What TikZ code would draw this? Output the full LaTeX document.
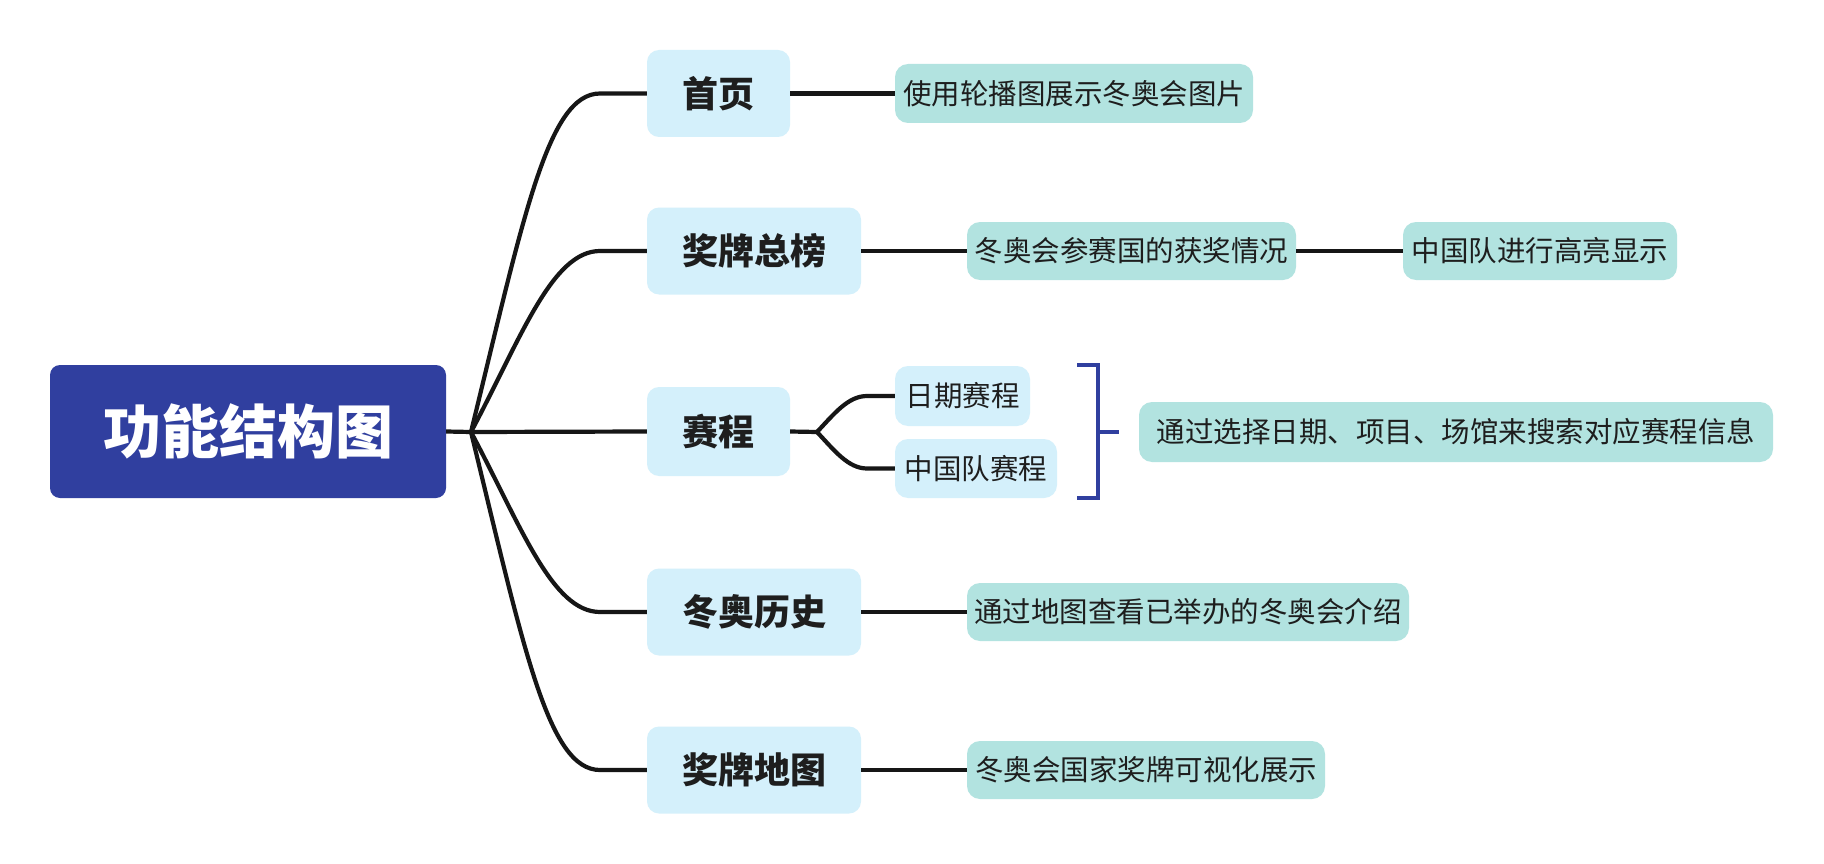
\documentclass[tikz,border=0pt]{standalone}
\usepackage{fontspec}
\newfontfamily\cjk{Noto Sans CJK SC}
\usetikzlibrary{calc}
\definecolor{rootc}{HTML}{303F9F}
\definecolor{lonec}{RGB}{212,240,251}
\definecolor{ltwoc}{RGB}{178,227,224}
\definecolor{txtc}{HTML}{1E1E1E}
\definecolor{linec}{HTML}{161616}
\tikzset{
  rootbox/.style={fill=rootc, rounded corners=10pt, minimum width=396pt, minimum height=133pt, inner sep=0pt, text=white, font=\cjk\bfseries\fontsize{58}{62}\selectfont},
  topicbox/.style={fill=lonec, rounded corners=12pt, minimum height=87pt, inner sep=0pt, text=txtc, font=\cjk\bfseries\fontsize{36}{40}\selectfont},
  subbox/.style={fill=ltwoc, rounded corners=13pt, minimum height=58pt, inner sep=0pt, text=txtc, font=\cjk\fontsize{28.5}{32}\selectfont},
  subblue/.style={subbox, fill=lonec},
  conn/.style={draw=linec, line width=4.2pt},
  bracketline/.style={draw=rootc, line width=4pt}
}
\begin{document}
\begin{tikzpicture}[x=1pt,y=-1pt]
\useasboundingbox[fill=white] (0,0) rectangle (1824,864);

% root
\node[rootbox] (root) at (248,431.5) {功能结构图};

% level 1
\node[topicbox, minimum width=143pt] (t1) at (718.5,93.5) {首页};
\node[topicbox, minimum width=214pt] (t2) at (754,251) {奖牌总榜};
\node[topicbox, minimum width=143pt, minimum height=89pt] (t3) at (718.5,431.5) {赛程};
\node[topicbox, minimum width=214pt] (t4) at (754,612) {冬奥历史};
\node[topicbox, minimum width=214pt] (t5) at (754,770) {奖牌地图};

% level 2
\node[subbox, minimum width=358pt, minimum height=59pt] (p1) at (1074,93.5) {使用轮播图展示冬奥会图片};
\node[subbox, minimum width=329pt] (p2a) at (1131.5,251) {冬奥会参赛国的获奖情况};
\node[subbox, minimum width=274pt] (p2b) at (1540,251) {中国队进行高亮显示};
\node[subblue, minimum width=135pt, minimum height=60pt] (s1) at (962.5,396) {日期赛程};
\node[subblue, minimum width=162pt, minimum height=59pt] (s2) at (976,468.5) {中国队赛程};
\node[subbox, minimum width=634pt, minimum height=60pt] (sum) at (1456,432) {通过选择日期、项目、场馆来搜索对应赛程信息};
\node[subbox, minimum width=442pt] (p4) at (1188,612) {通过地图查看已举办的冬奥会介绍};
\node[subbox, minimum width=358pt] (p5) at (1146,770) {冬奥会国家奖牌可视化展示};

% junctions
\coordinate (J) at (471,432);
\coordinate (e1) at (600,93.5);
\coordinate (e2) at (600,251);
\coordinate (e4) at (600,612);
\coordinate (e5) at (600,770);
\coordinate (K) at (817,432);
\coordinate (k1) at (867,396);
\coordinate (k2) at (867,468.5);

% root connectors
\draw[conn] (root.east) -- (J) -- (t3.west);
\draw[conn, line join=round] (J) .. controls (524,215) and (548,93.5) .. (e1) -- (t1.west);
\draw[conn, line join=round] (J) .. controls (521,338) and (552,251) .. (e2) -- (t2.west);
\draw[conn, line join=round] (J) .. controls (521,526) and (552,612) .. (e4) -- (t4.west);
\draw[conn, line join=round] (J) .. controls (524,649) and (548,770) .. (e5) -- (t5.west);

% level 1 to level 2
\draw[conn] (t1.east) -- (p1.west);
\draw[conn] (t2.east) -- (p2a.west);
\draw[conn] (p2a.east) -- (p2b.west);
\draw[conn] (t4.east) -- (p4.west);
\draw[conn] (t5.east) -- (p5.west);

% schedule branch
\draw[conn] (t3.east) -- (K);
\draw[conn, line join=round] (K) .. controls (834,414) and (848,396) .. (k1) -- (s1.west);
\draw[conn, line join=round] (K) .. controls (834,450) and (848,468.5) .. (k2) -- (s2.west);

% summary bracket
\coordinate (bt) at (1077,365);
\coordinate (bb) at (1077,498);
\coordinate (bm) at (1098,432);
\draw[bracketline] (bt) -- (1098,365) -- (1098,498) -- (bb);
\draw[bracketline] (bm) -- (sum.west -| 1119,432);
\end{tikzpicture}
\end{document}
